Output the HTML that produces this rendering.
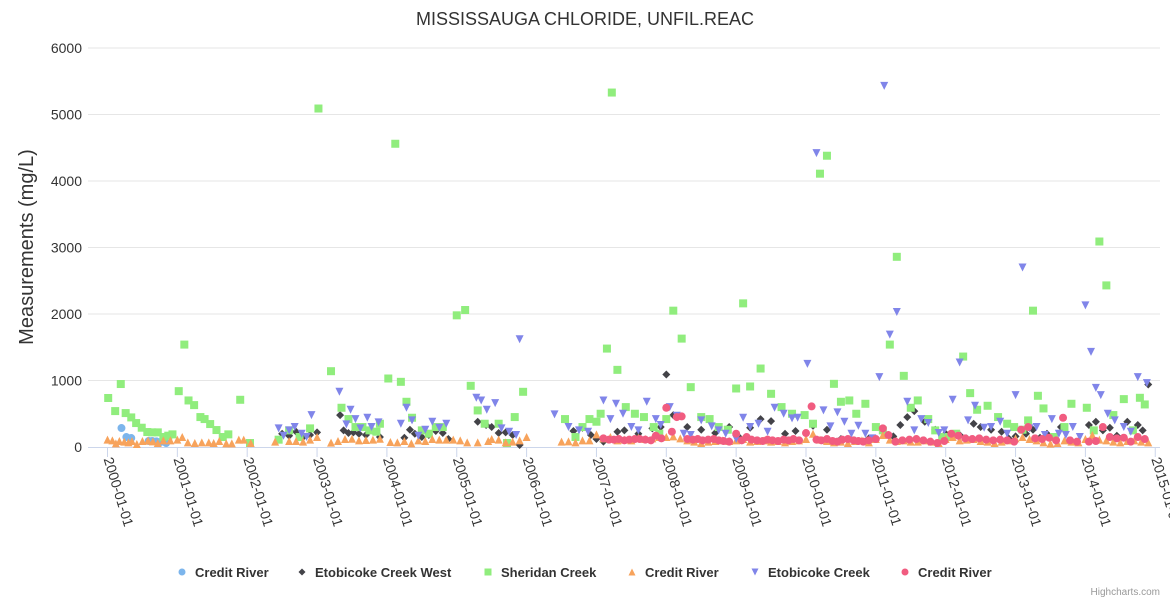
<!DOCTYPE html>
<html><head><meta charset="utf-8"><style>
body{margin:0;background:#fff;}
svg text{font-family:"Liberation Sans","DejaVu Sans",sans-serif;}
</style></head><body>
<svg id="chart" width="1170" height="600" xmlns="http://www.w3.org/2000/svg">
<rect width="1170" height="600" fill="#fff"/>
<text x="585" y="25" text-anchor="middle" font-size="18" fill="#333">MISSISSAUGA CHLORIDE, UNFIL.REAC</text>
<text transform="translate(33,247) rotate(-90)" text-anchor="middle" font-size="20" fill="#333">Measurements (mg/L)</text>
<g id="grid"></g>
<g id="xaxis"></g>
<g id="marks"></g>
<g id="legend"></g>
<text x="1160" y="595" text-anchor="end" font-size="10" fill="#999">Highcharts.com</text>
</svg>
<script>
const yTicks=[0,1000,2000,3000,4000,5000,6000];
const xTickYears=[2000,2001,2002,2003,2004,2005,2006,2007,2008,2009,2010,2011,2012,2013,2014,2015];
const xTickLabels=["2000-01-01","2001-01-01","2002-01-01","2003-01-01","2004-01-01","2005-01-01","2006-01-01","2007-01-01","2008-01-01","2009-01-01","2010-01-01","2011-01-01","2012-01-01","2013-01-01","2014-01-01","2015-01-01"];
const seriesNames=["Credit River","Etobicoke Creek West","Sheridan Creek","Credit River","Etobicoke Creek","Credit River"];
const crBlueDates=[2000.2,2000.27,2000.34,2000.59,2000.64,2000.7,2000.76,2000.84];
const crBlueVals=[285,150,135,90,90,85,75,60];
const ecwDates=[2002.5,2002.6,2002.7,2002.8,2002.9,2003.0,2003.33,2003.38,2003.45,2003.52,2003.6,2003.7,2003.8,2003.9,2004.25,2004.33,2004.4,2004.5,2004.6,2004.7,2004.8,2004.88,2005.3,2005.42,2005.5,2005.6,2005.7,2005.8,2005.9,2006.67,2006.8,2006.92,2007.0,2007.1,2007.3,2007.4,2007.6,2007.8,2007.92,2008.0,2008.1,2008.3,2008.5,2008.7,2008.9,2009.05,2009.2,2009.35,2009.5,2009.7,2009.85,2010.1,2010.3,2010.5,2010.7,2010.9,2011.25,2011.35,2011.45,2011.55,2011.7,2011.85,2012.0,2012.2,2012.3,2012.4,2012.5,2012.65,2012.8,2012.9,2013.0,2013.15,2013.25,2013.35,2013.45,2013.65,2013.8,2014.05,2014.15,2014.25,2014.35,2014.45,2014.6,2014.75,2014.82,2014.9];
const ecwVals=[200,170,230,150,180,220,480,250,210,220,200,180,240,150,140,260,200,150,180,240,210,120,380,330,300,210,220,180,30,240,290,180,120,80,230,250,200,280,300,1090,480,300,260,210,300,140,290,420,390,200,240,320,260,120,100,130,160,330,450,540,380,260,200,180,130,350,300,260,230,130,160,200,260,140,200,300,90,330,380,250,290,170,380,330,250,940];
const sheridanDates=[2000.01,2000.11,2000.19,2000.26,2000.34,2000.41,2000.49,2000.57,2000.64,2000.72,2000.8,2000.87,2000.93,2001.02,2001.1,2001.16,2001.24,2001.33,2001.39,2001.47,2001.56,2001.65,2001.73,2001.9,2002.04,2002.45,2002.6,2002.75,2002.9,2003.02,2003.2,2003.35,2003.45,2003.55,2003.65,2003.75,2003.85,2003.9,2004.02,2004.12,2004.2,2004.28,2004.36,2004.5,2004.6,2004.7,2004.8,2005.0,2005.12,2005.2,2005.3,2005.4,2005.6,2005.72,2005.83,2005.95,2006.55,2006.7,2006.8,2006.9,2007.0,2007.06,2007.15,2007.22,2007.3,2007.42,2007.55,2007.68,2007.82,2007.9,2008.0,2008.1,2008.22,2008.35,2008.5,2008.62,2008.75,2008.88,2009.0,2009.1,2009.2,2009.35,2009.5,2009.65,2009.8,2009.98,2010.1,2010.2,2010.3,2010.4,2010.5,2010.62,2010.72,2010.85,2011.0,2011.1,2011.2,2011.3,2011.4,2011.5,2011.6,2011.75,2011.85,2011.95,2012.05,2012.15,2012.25,2012.35,2012.45,2012.6,2012.75,2012.88,2012.98,2013.1,2013.18,2013.25,2013.32,2013.4,2013.55,2013.7,2013.8,2014.02,2014.12,2014.2,2014.3,2014.4,2014.55,2014.68,2014.78,2014.85];
const sheridanVals=[737,540,947,510,445,360,290,225,220,220,150,170,190,840,1540,700,630,450,420,345,255,150,190,710,60,110,250,150,280,5090,1140,590,420,300,300,250,230,350,1030,4560,980,680,440,250,200,300,300,1980,2060,920,550,350,350,60,450,830,420,150,300,420,380,500,1480,5330,1160,600,500,450,300,200,420,2050,1630,900,450,420,300,260,880,2160,910,1180,800,600,500,480,350,4110,4380,950,680,700,500,650,300,250,1540,2860,1070,590,700,420,250,150,150,200,1360,810,560,620,450,350,300,260,400,2050,770,580,150,300,650,590,250,3090,2430,480,720,250,740,640,700,1070];
const orangeDates=[2000.0,2000.07,2000.12,2000.17,2000.24,2000.3,2000.35,2000.42,2000.5,2000.58,2000.65,2000.72,2000.8,2000.9,2001.0,2001.07,2001.15,2001.25,2001.35,2001.45,2001.52,2001.6,2001.7,2001.78,2001.88,2001.95,2002.05,2002.4,2002.6,2002.7,2002.8,2002.9,2003.0,2003.2,2003.3,2003.4,2003.5,2003.6,2003.7,2003.8,2003.9,2004.05,2004.15,2004.25,2004.35,2004.45,2004.55,2004.65,2004.75,2004.85,2004.95,2005.05,2005.15,2005.3,2005.45,2005.5,2005.6,2005.7,2005.8,2005.9,2006.0,2006.5,2006.6,2006.7,2006.8,2006.9,2007.0,2007.1,2007.2,2007.3,2007.4,2007.5,2007.6,2007.7,2007.8,2007.9,2008.0,2008.1,2008.2,2008.3,2008.4,2008.5,2008.6,2008.7,2008.8,2008.9,2009.0,2009.1,2009.2,2009.3,2009.4,2009.5,2009.6,2009.7,2009.8,2009.9,2010.0,2010.1,2010.2,2010.3,2010.4,2010.5,2010.6,2010.7,2010.8,2010.9,2011.0,2011.1,2011.2,2011.3,2011.4,2011.5,2011.6,2011.7,2011.8,2011.9,2012.0,2012.1,2012.2,2012.3,2012.4,2012.5,2012.6,2012.7,2012.8,2012.9,2013.0,2013.1,2013.2,2013.3,2013.4,2013.5,2013.6,2013.7,2013.8,2013.9,2014.0,2014.1,2014.2,2014.3,2014.4,2014.5,2014.6,2014.7,2014.8,2014.9];
const orangeVals=[110,100,55,90,80,70,90,45,90,95,85,60,100,100,110,150,70,60,70,70,60,90,55,55,110,110,60,80,90,90,80,110,150,65,90,120,125,100,105,110,125,75,70,90,55,100,90,120,110,110,110,100,70,70,90,120,110,70,80,100,150,80,85,70,100,100,190,130,150,100,110,100,140,120,130,150,150,160,130,100,80,60,80,90,100,90,100,120,80,90,100,80,90,70,90,100,120,200,110,90,70,80,60,90,100,70,120,180,110,90,100,80,80,100,80,60,120,150,100,110,120,90,80,60,80,100,130,150,120,100,70,50,60,100,80,70,120,180,110,100,80,70,90,100,80,70];
const ecDates=[2002.45,2002.52,2002.6,2002.68,2002.78,2002.85,2002.92,2003.32,2003.42,2003.48,2003.55,2003.62,2003.72,2003.78,2003.88,2004.2,2004.28,2004.36,2004.45,2004.55,2004.65,2004.75,2004.85,2005.28,2005.35,2005.43,2005.55,2005.64,2005.75,2005.85,2005.9,2006.4,2006.6,2006.75,2006.88,2007.1,2007.2,2007.28,2007.38,2007.5,2007.6,2007.72,2007.85,2007.92,2008.05,2008.15,2008.25,2008.35,2008.5,2008.65,2008.75,2008.85,2009.0,2009.1,2009.2,2009.32,2009.45,2009.55,2009.68,2009.8,2009.88,2010.02,2010.15,2010.25,2010.35,2010.45,2010.55,2010.65,2010.75,2010.85,2010.95,2011.05,2011.12,2011.2,2011.3,2011.45,2011.55,2011.65,2011.75,2011.9,2011.98,2012.1,2012.2,2012.32,2012.42,2012.55,2012.65,2012.78,2012.88,2013.0,2013.1,2013.2,2013.3,2013.42,2013.52,2013.62,2013.72,2013.82,2013.92,2014.0,2014.08,2014.15,2014.22,2014.32,2014.42,2014.55,2014.65,2014.75,2014.88,2014.95];
const ecVals=[280,170,250,300,200,150,480,830,340,560,420,280,440,300,370,350,590,400,170,260,380,290,350,740,700,560,660,280,230,180,1620,490,300,250,230,700,420,650,500,300,250,680,420,330,600,470,200,180,400,310,250,200,120,440,300,350,230,590,500,430,440,1250,4420,550,310,520,380,200,320,200,130,1050,5430,1690,2030,680,250,420,360,210,250,710,1270,400,620,290,300,380,200,780,2700,280,300,180,420,200,180,300,150,2130,1430,890,780,500,400,300,230,1050,960];
const pinkDates=[2007.1,2007.18,2007.25,2007.32,2007.4,2007.47,2007.55,2007.62,2007.7,2007.78,2007.85,2007.93,2008.0,2008.08,2008.15,2008.22,2008.3,2008.38,2008.45,2008.52,2008.6,2008.68,2008.75,2008.82,2008.9,2009.0,2009.08,2009.15,2009.22,2009.3,2009.38,2009.45,2009.52,2009.6,2009.68,2009.75,2009.82,2009.9,2010.0,2010.08,2010.15,2010.22,2010.3,2010.38,2010.45,2010.52,2010.6,2010.68,2010.75,2010.82,2010.9,2011.0,2011.1,2011.18,2011.28,2011.38,2011.48,2011.58,2011.68,2011.78,2011.88,2011.98,2012.08,2012.18,2012.28,2012.38,2012.48,2012.58,2012.68,2012.78,2012.88,2012.98,2013.08,2013.18,2013.28,2013.38,2013.48,2013.58,2013.68,2013.78,2013.88,2014.05,2014.15,2014.25,2014.35,2014.45,2014.55,2014.65,2014.75,2014.85];
const pinkVals=[130,110,110,120,100,110,120,120,110,100,170,130,590,230,450,460,120,110,120,100,110,120,100,90,80,200,100,150,110,100,90,110,100,90,110,100,120,100,210,610,110,100,120,90,80,110,120,100,90,80,100,120,280,180,80,100,110,120,100,80,60,90,200,170,130,120,130,110,100,110,100,80,260,300,130,120,140,100,440,100,80,80,90,300,150,130,140,80,150,120,110,80];

const X0=107.5,PX=69.85,Y0=447,PY=0.0665,L=88,R=1160;
const xs=d=>X0+(d-2000)*PX, ys=v=>Y0-v*PY;
const NS="http://www.w3.org/2000/svg";
function mk(tag,attrs,parent){const e=document.createElementNS(NS,tag);for(const k in attrs)e.setAttribute(k,attrs[k]);parent.appendChild(e);return e;}
const grid=document.getElementById('grid');
yTicks.forEach(t=>{
  if(t>0){const ln=mk('line',{x1:L,x2:R,y1:ys(t),y2:ys(t),stroke:'#e6e6e6','stroke-width':1},grid);
  
  }
  const tx=mk('text',{x:82,y:ys(t)+5,'text-anchor':'end','font-size':14,fill:'#333'},grid);
  tx.textContent=t;
  
  
});
const xa=document.getElementById('xaxis');
const axl=mk('line',{x1:L,x2:R,y1:Y0+0.5,y2:Y0+0.5,stroke:'#ccd6eb','stroke-width':1},xa);


xTickYears.forEach((yr,i)=>{
  const x=xs(yr);
  const tk=mk('line',{x1:x,x2:x,y1:Y0,y2:Y0+10,stroke:'#ccd6eb'},xa);
  
  
  const tx=mk('text',{transform:`translate(${x-4},${Y0+12}) rotate(73)`,'font-size':14,fill:'#333'},xa);
  tx.textContent=xTickLabels[i];
  
  
});
const colors=['#7cb5ec','#434348','#90ed7d','#f7a35c','#8085e9','#f15c80'];
function sym(type,x,y,c,parent,s){
  s=s||4;let e;
  if(type==='circle')e=mk('circle',{cx:x,cy:y,r:s,fill:c},parent);
  else if(type==='square')e=mk('rect',{x:x-s,y:y-s,width:2*s,height:2*s,fill:c},parent);
  else if(type==='diamond')e=mk('path',{d:`M${x} ${y-s}L${x+s} ${y}L${x} ${y+s}L${x-s} ${y}Z`,fill:c},parent);
  else if(type==='triangle')e=mk('path',{d:`M${x} ${y-s}L${x+s} ${y+s}L${x-s} ${y+s}Z`,fill:c},parent);
  else e=mk('path',{d:`M${x-s} ${y-s}L${x+s} ${y-s}L${x} ${y+s}Z`,fill:c},parent);
  return e;
}
const types=['circle','diamond','square','triangle','triangle-down','circle'];
const all=[[crBlueDates,crBlueVals],[ecwDates,ecwVals],[sheridanDates,sheridanVals],[orangeDates,orangeVals],[ecDates,ecVals],[pinkDates,pinkVals]];
const marks=document.getElementById('marks');
all.forEach((s,si)=>{
  const g=mk('g',{},marks);
  
  
  s[0].forEach((d,i)=>{
    const e=sym(types[si],xs(d),ys(s[1][i]),colors[si],g);
    
    
  });
});
const legendX=[182,302,488,632,755,905];
const lg=document.getElementById('legend');
seriesNames.forEach((n,i)=>{
  const g=mk('g',{},lg);
  
  
  sym(types[i],legendX[i],572,colors[i],g,3.5);
  const t=mk('text',{x:legendX[i]+13,y:577,'font-size':13,'font-weight':'bold',fill:'#333'},g);
  t.textContent=n;
});
</script>
</body></html>
